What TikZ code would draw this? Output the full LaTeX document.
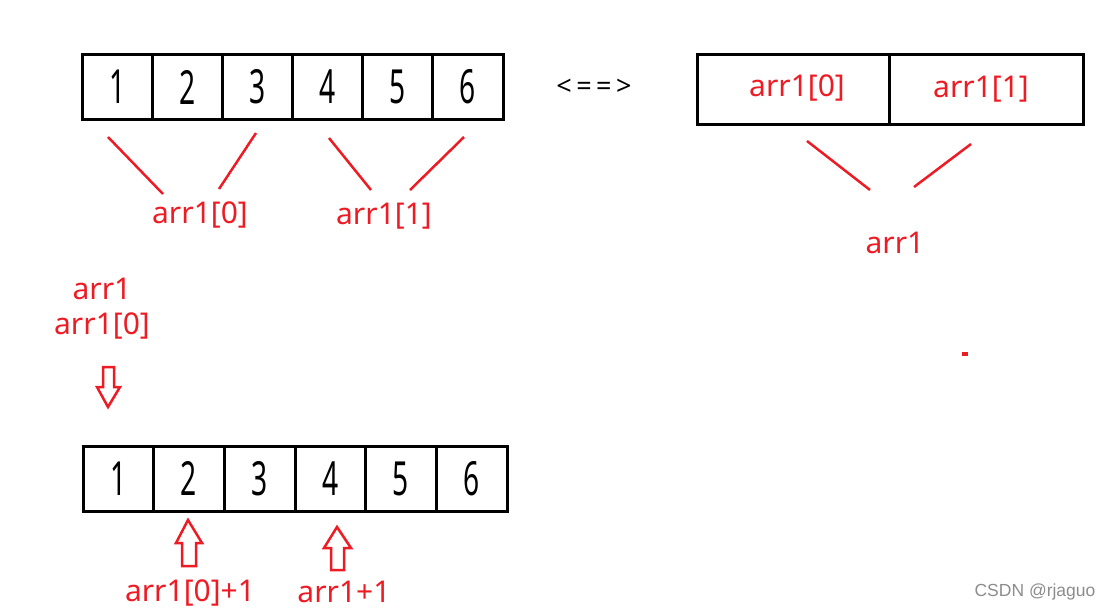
\documentclass[tikz,border=0pt]{standalone}
\usepackage{fontspec}
\setmainfont{Noto Sans}
\newfontfamily\wmfont{Liberation Sans}
\definecolor{pred}{RGB}{237,28,36}
\newcommand\dg[1]{\scalebox{0.6}[1]{#1}}
\begin{document}
\begin{tikzpicture}[x=1pt,y=-1pt,
 cell/.style={draw=black,line width=3pt,minimum height=65pt,inner sep=0pt,font=\fontsize{47}{47}\selectfont},
 lbl/.style={text=pred,inner sep=0pt,font=\fontsize{30}{35}\selectfont},
 rl/.style={draw=pred,line width=2.5pt},
 barrow/.style={draw=pred,line width=2.5pt,line join=miter,fill=white}]
\useasboundingbox (0,0) rectangle (1112,611);
% top array
\foreach \i/\t in {0/1,1/2,2/3,3/4,4/5,5/6}{
  \node[cell,minimum width=70.17pt] (t\t) at ({82+70.17*(\i+0.5)},87) {\dg{\t}};
}
% bottom array
\foreach \i/\t in {0/1,1/2,2/3,3/4,4/5,5/6}{
  \node[cell,minimum width=70.67pt] (b\t) at ({83+70.67*(\i+0.5)},478.5) {\dg{\t}};
}
% right box
\node[cell,minimum width=192pt,minimum height=70pt] (r0) at (793,89) {};
\node[cell,minimum width=194pt,minimum height=70pt] (r1) at (986,89) {};
\node[lbl] (r0t) at (797,88) {arr1[0]};
\node[lbl] (r1t) at (981,89) {arr1[1]};
% equivalence
\node[inner sep=0pt,font=\fontsize{27}{27}\selectfont] (eq) at (594,87) {<\,=\,=\,>};
% top labels
\node[lbl] (l0) at (200,215) {arr1[0]};
\node[lbl] (l1) at (384,216) {arr1[1]};
\node[lbl] (la) at (895,243) {arr1};
% red connector lines
\coordinate (a1) at (108,137); \coordinate (a2) at (163,194);
\coordinate (a3) at (256,133); \coordinate (a4) at (219,189);
\coordinate (a5) at (329,138); \coordinate (a6) at (371,190);
\coordinate (a7) at (464,137); \coordinate (a8) at (410,190);
\coordinate (c1) at (807,141); \coordinate (c2) at (870,190);
\coordinate (c3) at (971,144); \coordinate (c4) at (914,187);
\draw[rl] (a1) -- (a2);
\draw[rl] (a3) -- (a4);
\draw[rl] (a5) -- (a6);
\draw[rl] (a7) -- (a8);
\draw[rl] (c1) -- (c2);
\draw[rl] (c3) -- (c4);
% left labels
\node[lbl,align=center] (lp) at (102,309) {arr1\\arr1[0]};
% block arrows
\draw[barrow] (103,367) -- (114,367) -- (114,387) -- (120,387) -- (108,407) -- (97,387) -- (103,387) -- cycle;
\draw[barrow] (188,520) -- (202,543) -- (196,543) -- (196,566) -- (182,566) -- (182,543) -- (176,543) -- cycle;
\draw[barrow] (337,527) -- (351,548) -- (344,548) -- (344,570) -- (331,570) -- (331,548) -- (324,548) -- cycle;
\node[lbl] (p1) at (190,593) {arr1[0]+1};
\node[lbl] (p2) at (344,592) {arr1+1};
% small dash
\fill[pred] (962,352) rectangle (968,356);
% watermark
\node[inner sep=0pt,text={rgb,255:red,140;green,140;blue,140},font=\wmfont\fontsize{17.5}{17.5}\selectfont] (wm) at (1035,592) {CSDN @rjaguo};
\end{tikzpicture}
\end{document}
